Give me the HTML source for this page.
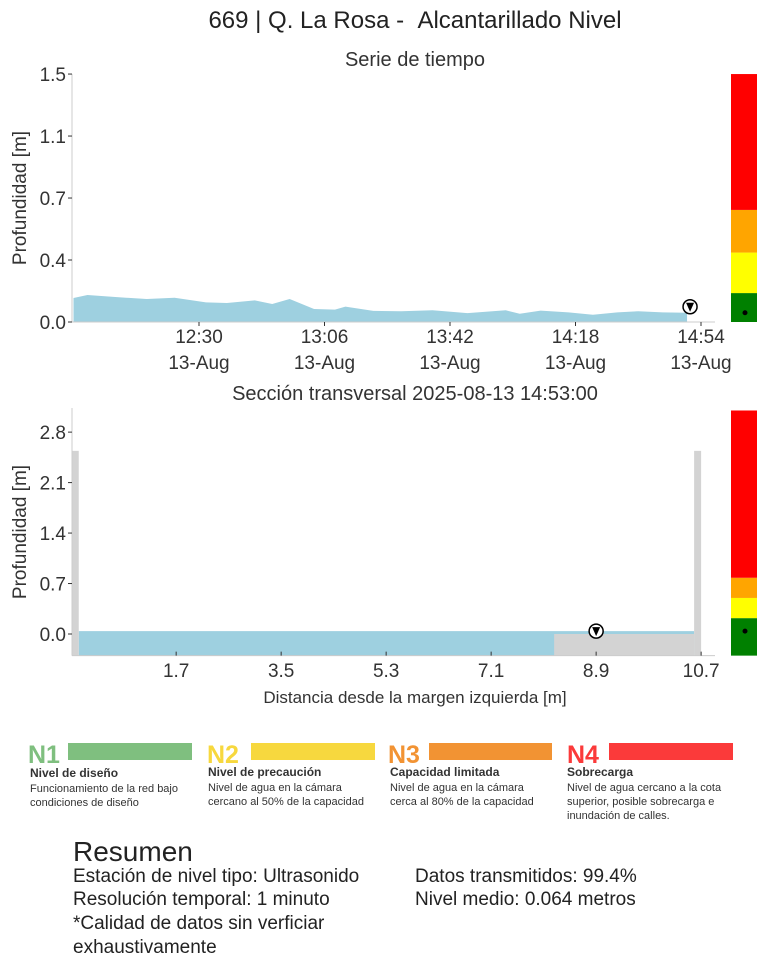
<!DOCTYPE html>
<html><head><meta charset="utf-8"><style>
body{margin:0;background:#fff;font-family:"Liberation Sans",sans-serif;color:#333}
svg text{font-family:"Liberation Sans",sans-serif}
</style></head><body>
<svg width="767" height="969" viewBox="0 0 767 969">
<text x="415" y="28" font-size="24" text-anchor="middle" fill="#222">669 | Q. La Rosa - &#160;Alcantarillado Nivel</text>
<text x="415" y="66" font-size="20" text-anchor="middle" fill="#333">Serie de tiempo</text>
<g id="ts"></g>
<text x="415" y="400" font-size="20" text-anchor="middle" fill="#333">Sección transversal 2025-08-13 14:53:00</text>
<g id="xs"></g>
<g font-size="12">
 <g>
  <text x="28" y="763" font-size="25" font-weight="bold" fill="#7fbf7f">N1</text>
  <rect x="68" y="743" width="124" height="17" fill="#7fbf7f"/>
  <text x="30" y="777" font-weight="bold" fill="#333">Nivel de diseño</text>
  <text x="30" y="792" fill="#333" font-size="11">Funcionamiento de la red bajo</text>
  <text x="30" y="806" fill="#333" font-size="11">condiciones de diseño</text>
 </g>
 <g>
  <text x="207" y="763" font-size="25" font-weight="bold" fill="#f7d83e">N2</text>
  <rect x="251" y="743" width="124" height="17" fill="#f7d83e"/>
  <text x="208" y="776" font-weight="bold" fill="#333">Nivel de precaución</text>
  <text x="208" y="791" fill="#333" font-size="11">Nivel de agua en la cámara</text>
  <text x="208" y="805" fill="#333" font-size="11">cercano al 50% de la capacidad</text>
 </g>
 <g>
  <text x="388" y="763" font-size="25" font-weight="bold" fill="#f29333">N3</text>
  <rect x="429" y="743" width="123" height="17" fill="#f29333"/>
  <text x="390" y="776" font-weight="bold" fill="#333">Capacidad limitada</text>
  <text x="390" y="791" fill="#333" font-size="11">Nivel de agua en la cámara</text>
  <text x="390" y="805" fill="#333" font-size="11">cerca al 80% de la capacidad</text>
 </g>
 <g>
  <text x="567" y="763" font-size="25" font-weight="bold" fill="#fb3a3a">N4</text>
  <rect x="609" y="743" width="124" height="17" fill="#fb3a3a"/>
  <text x="567" y="776" font-weight="bold" fill="#333">Sobrecarga</text>
  <text x="567" y="791" fill="#333" font-size="11">Nivel de agua cercano a la cota</text>
  <text x="567" y="805" fill="#333" font-size="11">superior,  posible sobrecarga e</text>
  <text x="567" y="819" fill="#333" font-size="11">inundación de calles.</text>
 </g>
</g>
<g fill="#222">
 <text x="73" y="861" font-size="28">Resumen</text>
 <text x="73" y="882" font-size="19">Estación de nivel tipo: Ultrasonido</text>
 <text x="73" y="905" font-size="19">Resolución temporal: 1 minuto</text>
 <text x="73" y="929" font-size="19">*Calidad de datos sin verficiar</text>
 <text x="73" y="953" font-size="19">exhaustivamente</text>
 <text x="415" y="882" font-size="19">Datos transmitidos: 99.4%</text>
 <text x="415" y="905" font-size="19">Nivel medio: 0.064 metros</text>
</g>
</svg>
<script>
// time series data (minutes of day)
const tsTimes=[714,718,726,735,743,752,758,766,771,776,783,789,792,800,808,817,827,838,842,848,856,863,870,876,883,890];
const tsDepth=[0.145,0.163,0.151,0.139,0.147,0.119,0.115,0.131,0.109,0.139,0.079,0.075,0.093,0.067,0.065,0.071,0.054,0.071,0.050,0.069,0.058,0.044,0.058,0.065,0.058,0.056];
const tsTickMin=[750,786,822,858,894];
const tsTickLabels=["12:30","13:06","13:42","14:18","14:54"];
const tsYTicks=[0,0.375,0.75,1.125,1.5];
const tsYLabels=["0.0","0.4","0.7","1.1","1.5"];
const levelBounds=[0,0.175,0.42,0.678,1.5];
const levelColors=["#008000","#ffff00","#ffa500","#ff0000"];
// cross section data
const xsYTicks=[0.0,0.7,1.4,2.1,2.8];
const xsXTicks=[1.7,3.5,5.3,7.1,8.9,10.7];
const waterLevel=0.04;
const floorStart=8.18, floorTop=0.0;
const wallLeft=[-0.09,0.03], wallRight=[10.58,10.7], wallTop=2.54;
const xsLevelBounds=[-0.3,0.22,0.5,0.78,3.1];

const NS="http://www.w3.org/2000/svg";
function mk(p,t,a){const e=document.createElementNS(NS,t);for(const k in a)e.setAttribute(k,a[k]);p.appendChild(e);return e;}

// ---- time series ----
const ts=document.getElementById('ts');
const tx=m=>199+(m-750)*125.5/36, ty=v=>322-v*165.3;
let d=`M${tx(tsTimes[0])},${ty(0)}`;
tsTimes.forEach((t,i)=>d+=`L${tx(t)},${ty(tsDepth[i])}`);
d+=`L${tx(tsTimes[tsTimes.length-1])},${ty(0)}Z`;
let a=mk(ts,'path',{d:d,fill:'#9ed0e0'});


mk(ts,'line',{x1:72,y1:74,x2:72,y2:322,stroke:'#ccc'});
mk(ts,'line',{x1:72,y1:322,x2:715,y2:322,stroke:'#ccc'});
tsYTicks.forEach((v,i)=>{mk(ts,'line',{x1:68,x2:72,y1:ty(v),y2:ty(v),stroke:'#333'});
 const t=mk(ts,'text',{x:66,y:ty(v)+7,'font-size':19,'text-anchor':'end',fill:'#333'});t.textContent=tsYLabels[i];
 });
tsTickMin.forEach((m,i)=>{const x=tx(m);mk(ts,'line',{x1:x,x2:x,y1:322,y2:326,stroke:'#333'});
 const t=mk(ts,'text',{x:x,y:343,'font-size':19,'text-anchor':'middle',fill:'#333'});t.textContent=tsTickLabels[i];
 
 const t2=mk(ts,'text',{x:x,y:369,'font-size':19,'text-anchor':'middle',fill:'#333'});t2.textContent='13-Aug';});
let yl=mk(ts,'text',{x:0,y:0,'font-size':19,'text-anchor':'middle',fill:'#333',transform:'translate(26,198) rotate(-90)'});yl.textContent='Profundidad [m]';

const lastT=tsTimes[tsTimes.length-1], lastV=tsDepth[tsDepth.length-1];
function marker(p,x,y){mk(p,'circle',{cx:x,cy:y,r:7,fill:'#fff',stroke:'#000','stroke-width':1.5});
 mk(p,'path',{d:`M${x-4},${y-4}L${x+4},${y-4}L${x},${y+5}Z`,fill:'#000'});}
marker(ts,tx(lastT)+3,ty(lastV)-6);
for(let i=0;i<4;i++){const r=mk(ts,'rect',{x:731,y:ty(levelBounds[i+1]),width:26,height:ty(levelBounds[i])-ty(levelBounds[i+1]),fill:levelColors[i]});
 }
mk(ts,'circle',{cx:745,cy:ty(lastV),r:2.5,fill:'#000'});

// ---- cross section ----
const xs=document.getElementById('xs');
const sx=v=>77+v*58.33, sy=v=>634-v*72.1;
const bot=-0.3;
let w=mk(xs,'rect',{x:sx(wallLeft[1]),y:sy(waterLevel),width:sx(wallRight[0])-sx(wallLeft[1]),height:sy(bot)-sy(waterLevel),fill:'#9ed0e0'});

let f=mk(xs,'rect',{x:sx(floorStart),y:sy(floorTop),width:sx(wallRight[0])-sx(floorStart),height:sy(bot)-sy(floorTop),fill:'#d3d3d3'});

[wallLeft,wallRight].forEach(wl=>{const r=mk(xs,'rect',{x:sx(wl[0]),y:sy(wallTop),width:sx(wl[1])-sx(wl[0]),height:sy(bot)-sy(wallTop),fill:'#d3d3d3'});
 });
mk(xs,'line',{x1:72,y1:408,x2:72,y2:sy(bot),stroke:'#ccc'});
mk(xs,'line',{x1:72,y1:sy(bot),x2:715,y2:sy(bot),stroke:'#ccc'});
xsYTicks.forEach(v=>{mk(xs,'line',{x1:68,x2:72,y1:sy(v),y2:sy(v),stroke:'#333'});
 const t=mk(xs,'text',{x:66,y:sy(v)+7,'font-size':19,'text-anchor':'end',fill:'#333'});t.textContent=v.toFixed(1);
 });
xsXTicks.forEach(v=>{const x=sx(v);mk(xs,'line',{x1:x,x2:x,y1:sy(bot),y2:sy(bot)-4,stroke:'#333'});
 const t=mk(xs,'text',{x:x,y:677,'font-size':19,'text-anchor':'middle',fill:'#333'});t.textContent=v.toFixed(1);
 });
let xl=mk(xs,'text',{x:415,y:703,'font-size':17,'text-anchor':'middle',fill:'#333'});xl.textContent='Distancia desde la margen izquierda [m]';

let yl2=mk(xs,'text',{x:0,y:0,'font-size':19,'text-anchor':'middle',fill:'#333',transform:'translate(26,532) rotate(-90)'});yl2.textContent='Profundidad [m]';

marker(xs,sx(8.9),sy(waterLevel));
for(let i=0;i<4;i++){const r=mk(xs,'rect',{x:731,y:sy(xsLevelBounds[i+1]),width:26,height:sy(xsLevelBounds[i])-sy(xsLevelBounds[i+1]),fill:levelColors[i]});
 }
mk(xs,'circle',{cx:745,cy:sy(waterLevel),r:2.5,fill:'#000'});
</script>
</body></html>
